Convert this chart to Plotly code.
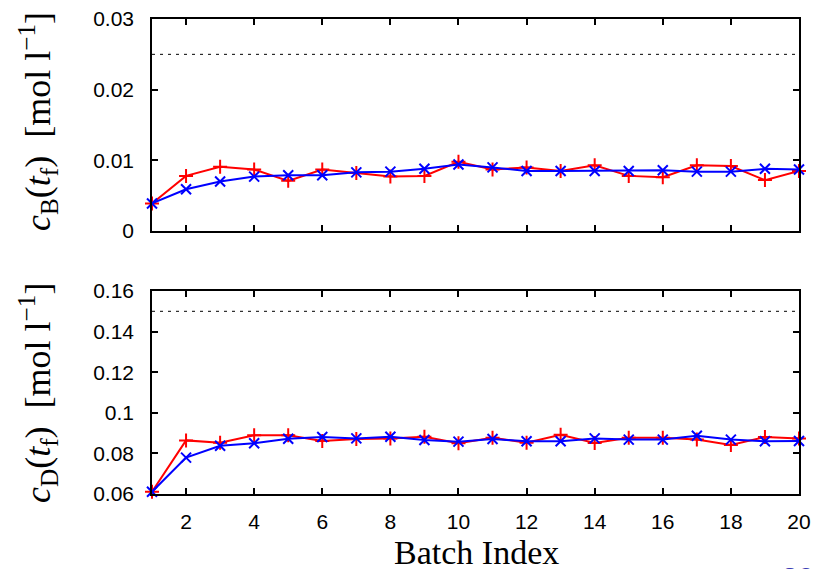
import plotly.graph_objects as go

batch = list(range(1, 21))

cb_red = [0.0039, 0.0078, 0.0091, 0.0087, 0.0071, 0.0087, 0.0082, 0.0077, 0.0078, 0.0098,
          0.0087, 0.0090, 0.0085, 0.0093, 0.0078, 0.0076, 0.0093, 0.0092, 0.0072, 0.0085]
cb_blue = [0.0039, 0.0059, 0.0070, 0.0077, 0.0079, 0.0079, 0.0083, 0.0084, 0.0088, 0.0094,
           0.0090, 0.0085, 0.0085, 0.0085, 0.0085, 0.0086, 0.0084, 0.0084, 0.0088, 0.0087]
cd_red = [0.0611, 0.0864, 0.0853, 0.0889, 0.0889, 0.0861, 0.0871, 0.0874, 0.0882, 0.0850,
          0.0877, 0.0853, 0.0892, 0.0851, 0.0877, 0.0877, 0.0868, 0.0841, 0.0881, 0.0874]
cd_blue = [0.0611, 0.0779, 0.0838, 0.0850, 0.0872, 0.0881, 0.0874, 0.0882, 0.0866, 0.0858,
           0.0871, 0.0860, 0.0860, 0.0874, 0.0868, 0.0868, 0.0887, 0.0868, 0.0860, 0.0861]
cb_limit = 0.025
cd_limit = 0.15

top_yticks = [0, 0.01, 0.02, 0.03]
top_ylabels = ["0", "0.01", "0.02", "0.03"]
bot_yticks = [0.06, 0.08, 0.10, 0.12, 0.14, 0.16]
bot_ylabels = ["0.06", "0.08", "0.1", "0.12", "0.14", "0.16"]
xticks = list(range(2, 21, 2))

W, H = 819, 569
fig = go.Figure()

RED = "#ff0000"
BLUE = "#0000ff"

def series(x, y, color, symbol, xa, ya):
    fig.add_trace(go.Scatter(
        x=x, y=y, mode="lines+markers", xaxis=xa, yaxis=ya,
        line=dict(color=color, width=2),
        marker=dict(symbol=symbol, size=10, color=color,
                    line=dict(color=color, width=2)),
        cliponaxis=False, showlegend=False, hoverinfo="skip"))

def limit(val, xa, ya):
    fig.add_trace(go.Scatter(
        x=[batch[0], batch[-1]], y=[val, val], mode="lines", xaxis=xa, yaxis=ya,
        line=dict(color="black", width=1, dash="3px,5px"),
        showlegend=False, hoverinfo="skip"))

limit(cb_limit, "x", "y")
series(batch, cb_red, RED, "cross-thin", "x", "y")
series(batch, cb_blue, BLUE, "x-thin", "x", "y")
limit(cd_limit, "x2", "y2")
series(batch, cd_red, RED, "cross-thin", "x2", "y2")
series(batch, cd_blue, BLUE, "x-thin", "x2", "y2")

xd = [152 / W, 799 / W]
top_dom = [1 - 231 / H, 1 - 19 / H]
bot_dom = [1 - 494 / H, 1 - 291 / H]

tickfont = dict(family="Liberation Sans, Arial, sans-serif", size=21, color="black")
common = dict(showline=True, linecolor="black", linewidth=1.5, mirror="ticks",
              ticks="inside", ticklen=6, tickwidth=1.5, tickcolor="black",
              showgrid=False, zeroline=False, tickfont=tickfont, automargin=False)

fig.update_layout(
    width=W, height=H,
    margin=dict(l=0, r=0, t=0, b=0, autoexpand=False),
    paper_bgcolor="white", plot_bgcolor="white",
    xaxis=dict(domain=xd, anchor="y", range=[1, 20], tickvals=xticks,
               showticklabels=False, **common),
    yaxis=dict(domain=top_dom, anchor="x", range=[0, 0.03], tickvals=top_yticks,
               ticktext=top_ylabels, ticklabelstandoff=12, **common),
    xaxis2=dict(domain=xd, anchor="y2", range=[1, 20], tickvals=xticks,
                ticktext=[str(v) for v in xticks], ticklabelstandoff=8, **common),
    yaxis2=dict(domain=bot_dom, anchor="x2", range=[0.06, 0.16], tickvals=bot_yticks,
                ticktext=bot_ylabels, ticklabelstandoff=12, **common),
)

serif = dict(family="Liberation Serif, DejaVu Serif, serif", size=36, color="black")
fig.add_annotation(x=38 / W, y=1 - 122 / H, xref="paper", yref="paper",
                   text="<i>c</i><sub>B</sub>(<i>t</i><sub>f</sub>)  [mol l<sup>−1</sup>]",
                   textangle=-90, showarrow=False, font=serif,
                   xanchor="center", yanchor="middle")
fig.add_annotation(x=38 / W, y=1 - 393 / H, xref="paper", yref="paper",
                   text="<i>c</i><sub>D</sub>(<i>t</i><sub>f</sub>)  [mol l<sup>−1</sup>]",
                   textangle=-90, showarrow=False, font=serif,
                   xanchor="center", yanchor="middle")
fig.add_annotation(x=476 / W, y=1 - 552 / H, xref="paper", yref="paper",
                   text="Batch Index", showarrow=False,
                   font=dict(family="Liberation Serif, DejaVu Serif, serif", size=34, color="black"),
                   xanchor="center", yanchor="middle")
fig.add_annotation(x=780 / W, y=1 - 560 / H, xref="paper", yref="paper",
                   text="<b>26</b>", showarrow=False,
                   font=dict(family="Liberation Sans, Arial, sans-serif", size=28, color="#3b3bb3"),
                   xanchor="left", yanchor="top")

fig.write_html("out.html", config={"displayModeBar": False},
               post_script="document.body.style.margin='0px';document.body.style.overflow='hidden';")
